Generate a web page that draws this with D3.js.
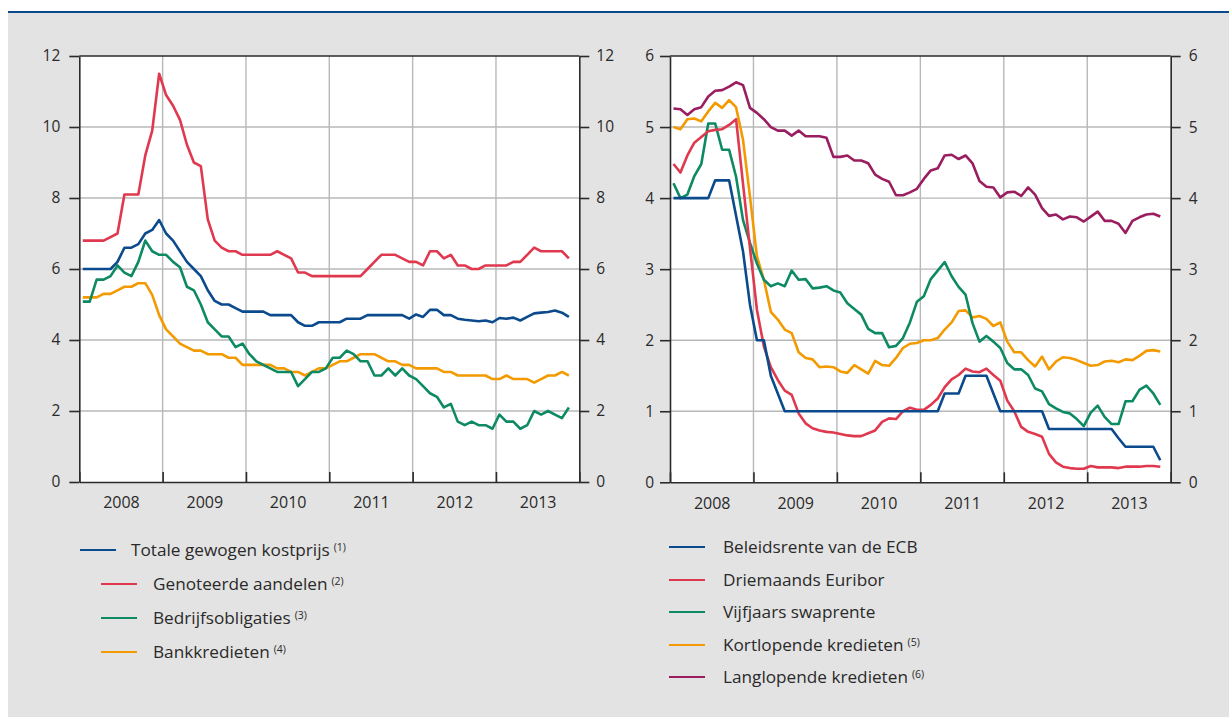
<!DOCTYPE html>
<html><head><meta charset="utf-8">
<script src="https://cdn.jsdelivr.net/npm/d3@7"></script>
<style>
body{margin:0;background:#fff}
svg{display:block}
text{font-family:"Open Sans",sans-serif;fill:#2a2a2a}
</style>
</head><body>
<svg id="c" width="1229" height="717"></svg>
<script>
// ---------- data (monthly, Jan 2008 – Nov 2013) ----------
const years = ["2008","2009","2010","2011","2012","2013"];
const leftTicks = [0,2,4,6,8,10,12];
const rightTicks = [0,1,2,3,4,5,6];

// Left panel
const totaal = [
 6.0,6.0,6.0,6.0,6.0,6.2,6.6,6.6,6.7,7.0,7.1,7.38,
 7.0,6.8,6.5,6.2,6.0,5.8,5.4,5.1,5.0,5.0,4.9,4.8,
 4.8,4.8,4.8,4.7,4.7,4.7,4.7,4.5,4.4,4.4,4.5,4.5,
 4.5,4.5,4.6,4.6,4.6,4.7,4.7,4.7,4.7,4.7,4.7,4.6,
 4.72,4.65,4.85,4.85,4.7,4.7,4.6,4.57,4.55,4.53,4.55,4.5,
 4.62,4.6,4.63,4.55,4.65,4.75,4.77,4.79,4.83,4.77,4.65];
const aandelen = [
 6.8,6.8,6.8,6.8,6.9,7.0,8.1,8.1,8.1,9.2,9.9,11.5,
 10.9,10.6,10.2,9.5,9.0,8.9,7.4,6.8,6.6,6.5,6.5,6.4,
 6.4,6.4,6.4,6.4,6.5,6.4,6.3,5.9,5.9,5.8,5.8,5.8,
 5.8,5.8,5.8,5.8,5.8,6.0,6.2,6.4,6.4,6.4,6.3,6.2,
 6.2,6.1,6.5,6.5,6.3,6.4,6.1,6.1,6.0,6.0,6.1,6.1,
 6.1,6.1,6.2,6.2,6.4,6.6,6.5,6.5,6.5,6.5,6.3];
const obligaties = [
 5.08,5.08,5.7,5.7,5.8,6.1,5.9,5.8,6.2,6.8,6.5,6.4,
 6.4,6.2,6.05,5.5,5.4,5.0,4.5,4.3,4.1,4.1,3.8,3.9,
 3.6,3.4,3.3,3.2,3.1,3.1,3.1,2.7,2.9,3.1,3.1,3.2,
 3.5,3.5,3.7,3.6,3.4,3.4,3.0,3.0,3.2,3.0,3.2,3.0,
 2.9,2.7,2.5,2.4,2.1,2.2,1.7,1.6,1.7,1.6,1.6,1.5,
 1.9,1.7,1.7,1.5,1.6,2.0,1.9,2.0,1.9,1.8,2.1];
const bankkredieten = [
 5.2,5.2,5.2,5.3,5.3,5.4,5.5,5.5,5.6,5.6,5.27,4.7,
 4.3,4.1,3.9,3.8,3.7,3.7,3.6,3.6,3.6,3.5,3.5,3.3,
 3.3,3.3,3.3,3.3,3.2,3.2,3.1,3.1,3.0,3.1,3.2,3.2,
 3.3,3.4,3.4,3.5,3.6,3.6,3.6,3.5,3.4,3.4,3.3,3.3,
 3.2,3.2,3.2,3.2,3.1,3.1,3.0,3.0,3.0,3.0,3.0,2.9,
 2.9,3.0,2.9,2.9,2.9,2.8,2.9,3.0,3.0,3.1,3.0];

// Right panel
const ecb = [
 4.0,4.0,4.0,4.0,4.0,4.0,4.25,4.25,4.25,3.75,3.25,2.5,
 2.0,2.0,1.5,1.25,1.0,1.0,1.0,1.0,1.0,1.0,1.0,1.0,
 1.0,1.0,1.0,1.0,1.0,1.0,1.0,1.0,1.0,1.0,1.0,1.0,
 1.0,1.0,1.0,1.25,1.25,1.25,1.5,1.5,1.5,1.5,1.25,1.0,
 1.0,1.0,1.0,1.0,1.0,1.0,0.75,0.75,0.75,0.75,0.75,0.75,
 0.75,0.75,0.75,0.75,0.62,0.5,0.5,0.5,0.5,0.5,0.31];
const euribor = [
 4.48,4.36,4.6,4.78,4.86,4.94,4.96,4.97,5.03,5.11,4.2,3.3,
 2.43,1.91,1.62,1.44,1.29,1.23,0.97,0.83,0.76,0.73,0.71,0.70,
 0.68,0.66,0.65,0.65,0.69,0.73,0.85,0.9,0.89,1.0,1.05,1.02,
 1.02,1.09,1.18,1.34,1.45,1.51,1.6,1.56,1.55,1.6,1.51,1.43,
 1.15,1.0,0.78,0.71,0.68,0.64,0.4,0.28,0.22,0.2,0.19,0.19,
 0.23,0.21,0.21,0.21,0.2,0.22,0.22,0.22,0.23,0.23,0.22];
const swap = [
 4.21,4.0,4.05,4.31,4.48,5.05,5.05,4.68,4.68,4.3,3.69,3.37,
 3.08,2.85,2.76,2.8,2.76,2.98,2.85,2.86,2.73,2.74,2.76,2.7,
 2.67,2.52,2.44,2.36,2.16,2.1,2.1,1.9,1.92,2.03,2.25,2.54,
 2.62,2.86,2.98,3.1,2.9,2.75,2.64,2.24,1.98,2.06,1.98,1.89,
 1.68,1.59,1.59,1.51,1.32,1.28,1.1,1.04,0.99,0.97,0.89,0.79,
 0.98,1.08,0.92,0.82,0.82,1.14,1.14,1.3,1.36,1.25,1.09];
const kortlopend = [
 5.0,4.97,5.11,5.12,5.08,5.22,5.34,5.27,5.38,5.28,4.82,4.02,
 3.18,2.85,2.4,2.29,2.15,2.1,1.83,1.75,1.73,1.62,1.63,1.62,
 1.56,1.54,1.65,1.59,1.53,1.71,1.65,1.64,1.75,1.89,1.95,1.96,
 2.0,2.0,2.03,2.15,2.25,2.41,2.42,2.32,2.34,2.3,2.2,2.25,
 1.98,1.83,1.83,1.72,1.63,1.77,1.59,1.7,1.76,1.75,1.72,1.68,
 1.64,1.65,1.7,1.71,1.69,1.73,1.72,1.78,1.85,1.86,1.84];
const langlopend = [
 5.26,5.25,5.17,5.25,5.28,5.43,5.51,5.52,5.57,5.63,5.59,5.27,
 5.2,5.11,5.0,4.95,4.95,4.88,4.95,4.87,4.87,4.87,4.85,4.58,
 4.58,4.6,4.53,4.53,4.49,4.33,4.27,4.23,4.04,4.04,4.08,4.13,
 4.27,4.39,4.42,4.6,4.61,4.55,4.6,4.49,4.24,4.16,4.15,4.01,
 4.08,4.09,4.03,4.15,4.05,3.86,3.75,3.77,3.7,3.74,3.73,3.67,
 3.74,3.81,3.68,3.68,3.64,3.51,3.68,3.73,3.77,3.78,3.74];

const leftLabels = ["Totale gewogen kostprijs","Genoteerde aandelen","Bedrijfsobligaties","Bankkredieten"];
const leftNotes = ["(1)","(2)","(3)","(4)"];
const rightLabels = ["Beleidsrente van de ECB","Driemaands Euribor","Vijfjaars swaprente","Kortlopende kredieten","Langlopende kredieten"];
const rightNotes = ["","","","(5)","(6)"];

const C = {blue:"#0b4a8c", red:"#e0384f", green:"#0d8a63", orange:"#f39a00", purple:"#991d5f"};

// ---------- drawing ----------
const svg = d3.select("#c");
svg.append("rect").attr("x",8).attr("y",12).attr("width",1221).attr("height",705).attr("fill","#e3e3e3");
svg.append("line").attr("x1",8).attr("x2",1229).attr("y1",12).attr("y2",12)
  .attr("stroke","#0b4a8c").attr("stroke-width",2.2);

const AX = "#2b2b2b", GRID = "#b8b8b8";

function panel(cfg){
  const {x0,x1,y0,y1,ymax,ticks,series,lpad,rpad} = cfg;
  const x = d3.scaleLinear().domain([0,72]).range([x0,x1]);
  const y = d3.scaleLinear().domain([0,ymax]).range([y1,y0]);
  const fmt = d3.format("d");
  const g = svg.append("g");
  g.append("rect").attr("x",x0).attr("y",y0).attr("width",x1-x0).attr("height",y1-y0).attr("fill","#fff");
  // grid
  g.selectAll(".hg").data(ticks.filter(t=>t>0&&t<ymax)).join("line")
    .attr("x1",x0).attr("x2",x1).attr("y1",d=>y(d)).attr("y2",d=>y(d))
    .attr("stroke",GRID).attr("stroke-width",1.4);
  g.selectAll(".vg").data([12,24,36,48,60]).join("line")
    .attr("x1",d=>x(d)).attr("x2",d=>x(d)).attr("y1",y0).attr("y2",y1)
    .attr("stroke",GRID).attr("stroke-width",1.4);
  // series
  const line = d3.line().x((d,i)=>x(i+0.5)).y(d=>y(d));
  series.forEach(s=>{
    g.append("path").datum(s.values).attr("d",line).attr("fill","none")
      .attr("stroke",s.color).attr("stroke-width",2.6).attr("stroke-linejoin","round");
  });
  // frame top
  g.append("line").attr("x1",x0).attr("x2",x1).attr("y1",y0).attr("y2",y0).attr("stroke",AX).attr("stroke-width",1.6);
  const la = g.append("g").attr("transform",`translate(${x0},0)`)
    .call(d3.axisLeft(y).tickValues(ticks).tickFormat(fmt).tickSize(10).tickSizeOuter(0).tickPadding(lpad));
  const ra = g.append("g").attr("transform",`translate(${x1},0)`)
    .call(d3.axisRight(y).tickValues(ticks).tickFormat(fmt).tickSize(10).tickSizeOuter(0).tickPadding(rpad));
  const ba = g.append("g").attr("transform",`translate(0,${y1})`)
    .call(d3.axisBottom(x).tickValues([0,12,24,36,48,60,72]).tickSize(-10).tickSizeOuter(0).tickFormat(""));
  const yl = g.append("g").attr("transform",`translate(0,${y1})`)
    .call(d3.axisBottom(x).tickValues([6,18,30,42,54,66]).tickSize(0).tickPadding(15).tickFormat((d,i)=>years[i]));
  yl.select(".domain").remove();
  [la,ra,ba].forEach(a=>{
    a.select(".domain").attr("stroke",AX).attr("stroke-width",1.6);
    a.selectAll(".tick line").attr("stroke",AX).attr("stroke-width",1.6);
  });
  g.selectAll(".tick text").style("font-family","'Open Sans',sans-serif").style("font-size","15.5px").attr("fill","#2a2a2a");
  yl.selectAll(".tick text").style("font-size","16px");
}

panel({x0:79.3,x1:579.3,y0:56,y1:482,ymax:12,ticks:leftTicks,lpad:9,rpad:7,
  series:[{values:bankkredieten,color:C.orange},{values:obligaties,color:C.green},{values:aandelen,color:C.red},{values:totaal,color:C.blue}]});
panel({x0:670,x1:1170.7,y0:56,y1:482.3,ymax:6,ticks:rightTicks,lpad:6,rpad:8,
  series:[{values:langlopend,color:C.purple},{values:kortlopend,color:C.orange},{values:swap,color:C.green},{values:euribor,color:C.red},{values:ecb,color:C.blue}]});

// ---------- legends ----------
function legend(items){
  items.forEach(it=>{
    svg.append("line").attr("x1",it.lx).attr("x2",it.lx+36).attr("y1",it.y).attr("y2",it.y)
      .attr("stroke",it.color).attr("stroke-width",2.2);
    const t = svg.append("text").attr("x",it.tx).attr("y",it.y).attr("dy","0.36em")
      .style("font-size","17.2px");
    t.append("tspan").text(it.label);
    if(it.note){
      t.append("tspan").text(it.note).attr("dx",4).attr("dy","-0.45em").style("font-size","10.5px");
    }
  });
}
const lcol = [C.blue,C.red,C.green,C.orange];
const lys = [550,584,618,652];
legend(leftLabels.map((l,i)=>({label:l,note:leftNotes[i],color:lcol[i],y:lys[i],lx:i===0?80:101,tx:i===0?131:153})));
const rcol = [C.blue,C.red,C.green,C.orange,C.purple];
const rys = [547,580,612,645,677];
legend(rightLabels.map((l,i)=>({label:l,note:rightNotes[i],color:rcol[i],y:rys[i],lx:669,tx:723})));
</script>
</body></html>
